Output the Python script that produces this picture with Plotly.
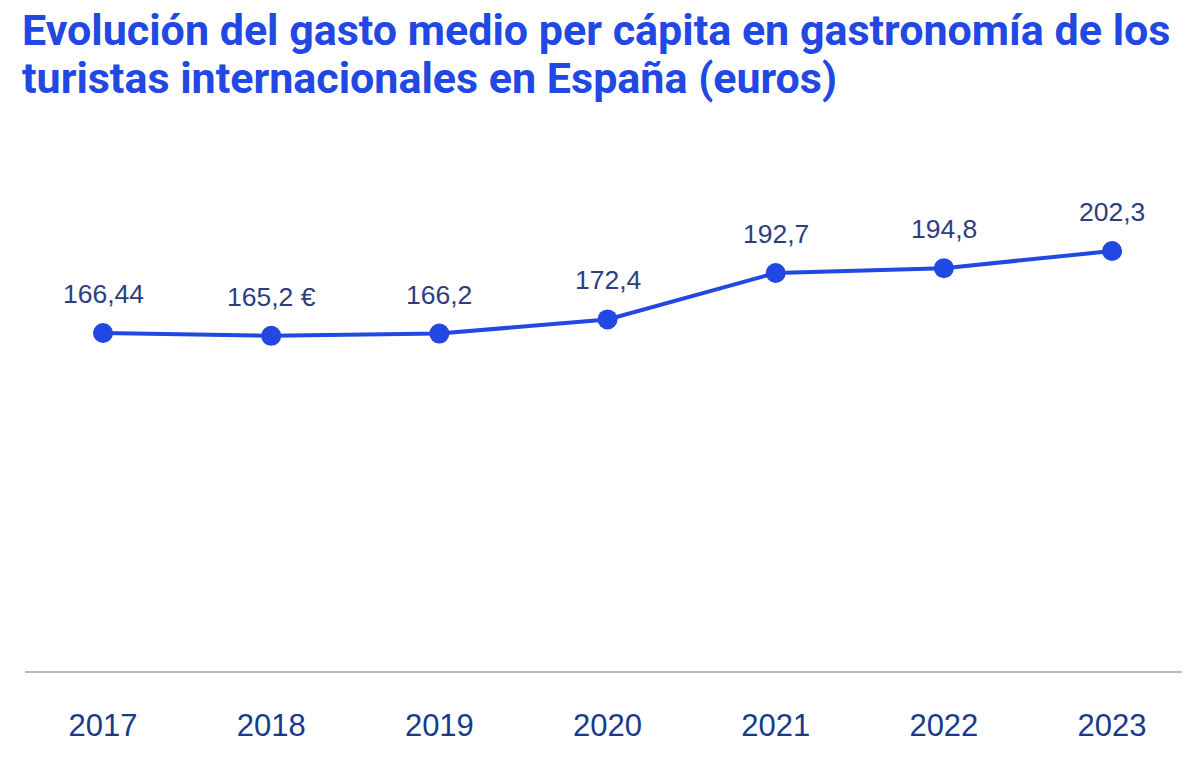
import plotly.graph_objects as go

years = ["2017", "2018", "2019", "2020", "2021", "2022", "2023"]
values = [166.44, 165.2, 166.2, 172.4, 192.7, 194.8, 202.3]
labels = ["166,44", "165,2 €", "166,2", "172,4", "192,7", "194,8", "202,3"]

title_lines = ["Evolución del gasto medio per cápita en gastronomía de los",
               "turistas internacionales en España (euros)"]

BLUE = "#2148e2"
LABEL = "#2b3e80"
TICK = "#183a8e"

W, H = 1200, 762
ML, MR, MT, MB = 25, 18, 150, 91
PW, PH = W - ML - MR, H - MT - MB

fig = go.Figure()
fig.add_trace(go.Scatter(
    x=list(range(len(years))), y=values, mode="lines+markers",
    line=dict(color=BLUE, width=4),
    marker=dict(color=BLUE, size=20),
    hoverinfo="skip", showlegend=False,
))

for i, (yv, lab) in enumerate(zip(values, labels)):
    fig.add_annotation(x=i, y=yv, text=lab, showarrow=False, yanchor="middle",
                       yshift=39, font=dict(family="Liberation Sans, Arial", size=26.5, color=LABEL))

for line, cy in zip(title_lines, [30, 78]):
    fig.add_annotation(xref="paper", yref="paper", x=(20 - ML) / PW, y=1 + (MT - cy) / PH,
                       xanchor="left", yanchor="middle", text=line, showarrow=False,
                       font=dict(family="Roboto, Liberation Sans", size=43, color=BLUE, weight="bold"))

fig.update_layout(
    width=W, height=H,
    paper_bgcolor="white", plot_bgcolor="white",
    margin=dict(l=ML, r=MR, t=MT, b=MB),
    xaxis=dict(range=[-0.464, 6.416], showgrid=False, zeroline=False,
               showline=True, linecolor="#b8b8b8", linewidth=1.5,
               tickmode="array", tickvals=list(range(len(years))), ticktext=years,
               ticks="", ticklabelstandoff=26,
               tickfont=dict(family="Liberation Sans, Arial", size=31, color=TICK)),
    yaxis=dict(range=[18.6, 246.5], visible=False),
)

fig.write_html("out.html", config={"displayModeBar": False},
               post_script="document.body.style.margin='0';")
